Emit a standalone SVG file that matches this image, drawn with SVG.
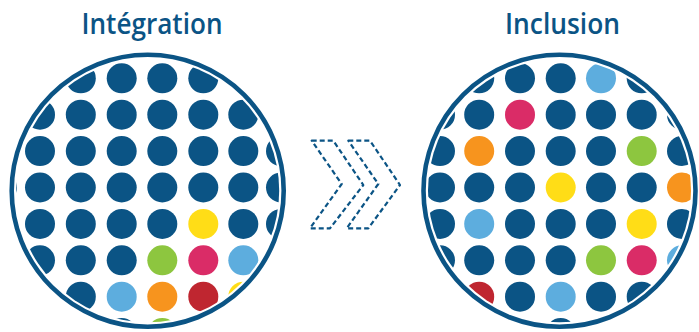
<svg xmlns="http://www.w3.org/2000/svg" width="699" height="332" viewBox="0 0 699 332">
<style>
.t{font-family:"Open Sans","Liberation Sans",sans-serif;font-weight:600;font-size:29px;fill:#0b5485;text-anchor:middle}
.ring{fill:none;stroke:#0b5485;stroke-width:4.6}
.d{fill:#0b5485}.y{fill:#ffdd17}.g{fill:#8dc63f}.p{fill:#da2c67}.lb{fill:#5dadde}.o{fill:#f7941e}.r{fill:#bf2630}
.chev{fill:none;stroke:#0b5485;stroke-width:2.2;stroke-dasharray:5 3;stroke-linejoin:round}
</style>
<defs>
<clipPath id="clipL"><circle cx="147.7" cy="190.8" r="131.5"/></clipPath>
<clipPath id="clipR"><circle cx="559.5" cy="190.8" r="131.5"/></clipPath>
</defs>
<g id="integration">
<text class="t" x="152" y="34" textLength="141" lengthAdjust="spacingAndGlyphs">Intégration</text>
<circle class="ring" cx="147.7" cy="190.8" r="136"/>
<g clip-path="url(#clipL)">
<g class="d">
<circle cx="40" cy="78.3" r="15"/><circle cx="80.8" cy="78.3" r="15"/><circle cx="121.7" cy="78.3" r="15"/><circle cx="162.3" cy="78.3" r="15"/><circle cx="203.3" cy="78.3" r="15"/><circle cx="243.3" cy="78.3" r="15"/>
<circle cx="40" cy="114.7" r="15"/><circle cx="80.8" cy="114.7" r="15"/><circle cx="121.7" cy="114.7" r="15"/><circle cx="162.3" cy="114.7" r="15"/><circle cx="203.3" cy="114.7" r="15"/><circle cx="243.3" cy="114.7" r="15"/><circle cx="281" cy="114.7" r="15"/>
<circle cx="2" cy="151.1" r="15"/><circle cx="40" cy="151.1" r="15"/><circle cx="80.8" cy="151.1" r="15"/><circle cx="121.7" cy="151.1" r="15"/><circle cx="162.3" cy="151.1" r="15"/><circle cx="203.3" cy="151.1" r="15"/><circle cx="243.3" cy="151.1" r="15"/><circle cx="281" cy="151.1" r="15"/>
<circle cx="2" cy="187.5" r="15"/><circle cx="40" cy="187.5" r="15"/><circle cx="80.8" cy="187.5" r="15"/><circle cx="121.7" cy="187.5" r="15"/><circle cx="162.3" cy="187.5" r="15"/><circle cx="203.3" cy="187.5" r="15"/><circle cx="243.3" cy="187.5" r="15"/><circle cx="281" cy="187.5" r="15"/>
<circle cx="2" cy="223.9" r="15"/><circle cx="40" cy="223.9" r="15"/><circle cx="80.8" cy="223.9" r="15"/><circle cx="121.7" cy="223.9" r="15"/><circle cx="162.3" cy="223.9" r="15"/><circle cx="243.3" cy="223.9" r="15"/><circle cx="281" cy="223.9" r="15"/>
<circle cx="40" cy="260.3" r="15"/><circle cx="80.8" cy="260.3" r="15"/><circle cx="121.7" cy="260.3" r="15"/><circle cx="281" cy="260.3" r="15"/>
<circle cx="40" cy="296.7" r="15"/><circle cx="80.8" cy="296.7" r="15"/>
<circle cx="80.8" cy="333.1" r="15"/><circle cx="121.7" cy="333.1" r="15"/><circle cx="203.3" cy="333.1" r="15"/>
</g>
<circle class="y" cx="203.3" cy="223.9" r="15"/>
<circle class="g" cx="162.3" cy="260.3" r="15"/><circle class="p" cx="203.3" cy="260.3" r="15"/><circle class="lb" cx="243.3" cy="260.3" r="15"/>
<circle class="lb" cx="121.7" cy="296.7" r="15"/><circle class="o" cx="162.3" cy="296.7" r="15"/><circle class="r" cx="203.3" cy="296.7" r="15"/><circle class="y" cx="243.3" cy="296.7" r="15"/>
<circle class="g" cx="162.3" cy="333.1" r="15"/>
</g>
</g>
<g id="inclusion">
<text class="t" x="562.5" y="34" textLength="115" lengthAdjust="spacingAndGlyphs">Inclusion</text>
<circle class="ring" cx="559.5" cy="190.8" r="136"/>
<g clip-path="url(#clipR)">
<g class="d">
<circle cx="479.2" cy="78.3" r="15"/><circle cx="520" cy="78.3" r="15"/><circle cx="560.7" cy="78.3" r="15"/><circle cx="641.7" cy="78.3" r="15"/>
<circle cx="440" cy="114.7" r="15"/><circle cx="479.2" cy="114.7" r="15"/><circle cx="560.7" cy="114.7" r="15"/><circle cx="601" cy="114.7" r="15"/><circle cx="641.7" cy="114.7" r="15"/><circle cx="682" cy="114.7" r="15"/>
<circle cx="440" cy="151.1" r="15"/><circle cx="520" cy="151.1" r="15"/><circle cx="560.7" cy="151.1" r="15"/><circle cx="601" cy="151.1" r="15"/><circle cx="682" cy="151.1" r="15"/>
<circle cx="440" cy="187.5" r="15"/><circle cx="479.2" cy="187.5" r="15"/><circle cx="520" cy="187.5" r="15"/><circle cx="601" cy="187.5" r="15"/><circle cx="641.7" cy="187.5" r="15"/>
<circle cx="440" cy="223.9" r="15"/><circle cx="520" cy="223.9" r="15"/><circle cx="560.7" cy="223.9" r="15"/><circle cx="601" cy="223.9" r="15"/><circle cx="682" cy="223.9" r="15"/>
<circle cx="440" cy="260.3" r="15"/><circle cx="479.2" cy="260.3" r="15"/><circle cx="520" cy="260.3" r="15"/><circle cx="560.7" cy="260.3" r="15"/>
<circle cx="520" cy="296.7" r="15"/><circle cx="601" cy="296.7" r="15"/><circle cx="641.7" cy="296.7" r="15"/>
<circle cx="560.7" cy="333.1" r="15"/>
</g>
<circle class="lb" cx="601" cy="78.3" r="15"/>
<circle class="p" cx="520" cy="114.7" r="15"/>
<circle class="o" cx="479.2" cy="151.1" r="15"/><circle class="g" cx="641.7" cy="151.1" r="15"/>
<circle class="y" cx="560.7" cy="187.5" r="15"/><circle class="o" cx="682" cy="187.5" r="15"/>
<circle class="lb" cx="479.2" cy="223.9" r="15"/><circle class="y" cx="641.7" cy="223.9" r="15"/>
<circle class="g" cx="601" cy="260.3" r="15"/><circle class="p" cx="641.7" cy="260.3" r="15"/><circle class="lb" cx="682" cy="260.3" r="15"/>
<circle class="r" cx="479.2" cy="296.7" r="15"/><circle class="lb" cx="560.7" cy="296.7" r="15"/>
</g>
</g>
<g id="connectors">
<path class="chev" d="M311.7,140.7 L333.3,140.7 L363.3,185 L330,228.3 L310,228.3 L341.7,184 Z"/>
<path class="chev" d="M348.3,140.7 L370,140.7 L400,185 L368.3,228.3 L346.7,228.3 L378.3,184 Z"/>
</g>
</svg>
